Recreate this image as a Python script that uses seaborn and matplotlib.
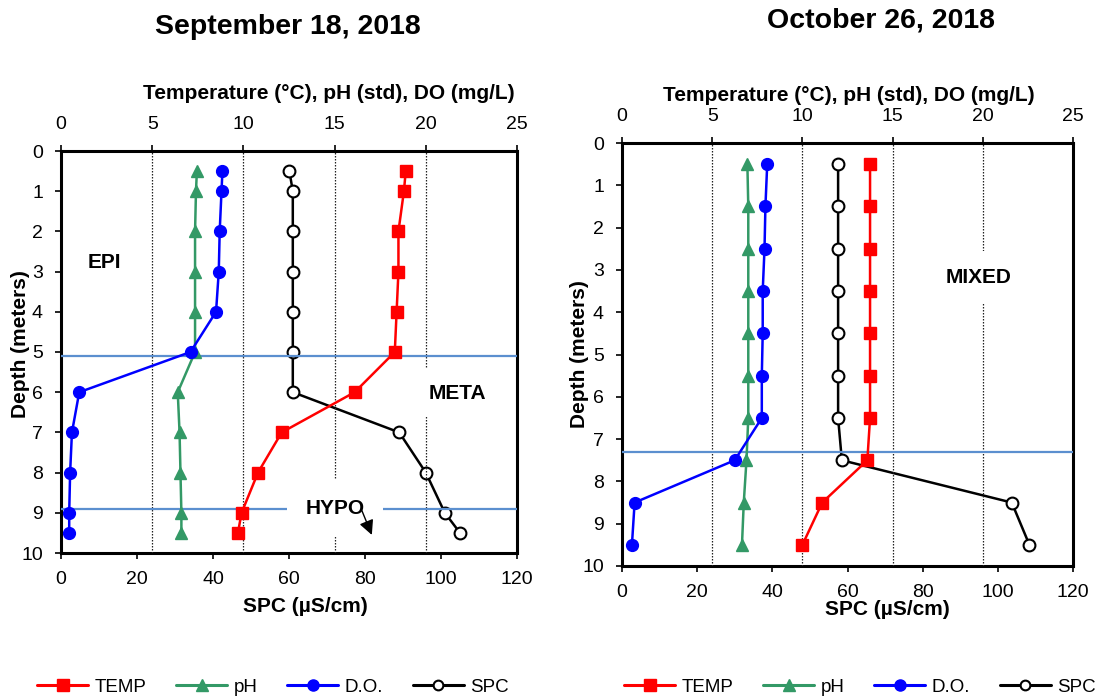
import matplotlib
matplotlib.use("Agg")
import matplotlib.pyplot as plt
import seaborn as sns
import pandas as pd
from matplotlib.lines import Line2D

sns.set_style("white")
plt.rcParams["font.family"] = ["Liberation Sans", "DejaVu Sans"]
for k in ["text.color", "axes.labelcolor", "xtick.color", "ytick.color"]:
    plt.rcParams[k] = "black"

# ---------------- data ----------------
titles = ["September 18, 2018", "October 26, 2018"]

depth_sep = [0.5, 1, 2, 3, 4, 5, 6, 7, 8, 9, 9.5]
temp_sep = [18.9, 18.8, 18.5, 18.5, 18.4, 18.3, 16.1, 12.1, 10.8, 9.9, 9.7]
ph_sep = [7.45, 7.4, 7.35, 7.35, 7.35, 7.35, 6.4, 6.5, 6.55, 6.6, 6.6]
do_sep = [8.85, 8.8, 8.7, 8.65, 8.5, 7.1, 1.0, 0.6, 0.5, 0.45, 0.45]
spc_sep = [60.1, 61, 61, 61, 61, 61, 61, 89, 96, 101, 105]
thermo_sep = [5.1, 8.9]

depth_oct = [0.5, 1.5, 2.5, 3.5, 4.5, 5.5, 6.5, 7.5, 8.5, 9.5]
temp_oct = [13.75, 13.75, 13.75, 13.75, 13.75, 13.75, 13.75, 13.6, 11.1, 10.0]
ph_oct = [6.95, 7.0, 7.0, 7.0, 7.0, 7.0, 7.0, 6.9, 6.75, 6.65]
do_oct = [8.05, 7.95, 7.9, 7.8, 7.8, 7.75, 7.75, 6.25, 0.7, 0.55]
spc_oct = [57.5, 57.5, 57.5, 57.5, 57.5, 57.5, 57.5, 58.5, 103.7, 108.4]
thermo_oct = [7.3]

spc_ticks = [0, 20, 40, 60, 80, 100, 120]
top_ticks = [0, 5, 10, 15, 20, 25]
grid_top = [5, 10, 15, 20]
depth_ticks = list(range(0, 11))

series_names = ["TEMP", "pH", "D.O.", "SPC"]
top_label = "Temperature (°C), pH (std), DO (mg/L)"
bottom_label = "SPC (µS/cm)"
y_label = "Depth (meters)"

RED = "#FF0000"
GREEN = "#339966"
BLUE = "#0000FF"
BLACK = "#000000"
THERMO = "#5B8FCF"

W, H = 1108, 698
fig = plt.figure(figsize=(W / 100, H / 100), dpi=100)


def rect(x0, y0, x1, y1):
    return [x0 / W, 1 - y1 / H, (x1 - x0) / W, (y1 - y0) / H]


def draw_panel(ax, depth, temp, ph, do, spc, thermo, top_xy, bot_xy, yl_xy):
    ax_t = ax.twiny()
    # SPC on the bottom axis
    df_spc = pd.DataFrame({"depth": depth, "value": spc})
    sns.lineplot(data=df_spc, x="value", y="depth", sort=False, estimator=None,
                 ax=ax, color=BLACK, lw=1.8, marker="o", markersize=8.5,
                 markerfacecolor="white", markeredgecolor=BLACK,
                 markeredgewidth=1.5, zorder=3)
    # Temp / pH / DO on the top axis
    for vals, col, mk in [(temp, RED, "s"), (ph, GREEN, "^"), (do, BLUE, "o")]:
        d = pd.DataFrame({"depth": depth, "value": vals})
        sns.lineplot(data=d, x="value", y="depth", sort=False, estimator=None,
                     ax=ax_t, color=col, lw=1.8, marker=mk, markersize=8.5,
                     markerfacecolor=col, markeredgecolor=col,
                     markeredgewidth=1, zorder=4)
    for g in grid_top:
        ax_t.axvline(g, color="#222222", lw=0.9, ls=(0, (1.2, 1.2)), zorder=1)
    for t in thermo:
        ax_t.axhline(t, color=THERMO, lw=1.6, zorder=2)

    ax.set_xlim(0, 120)
    ax.set_ylim(10, 0)
    ax_t.set_xlim(0, 25)
    ax.set_xticks(spc_ticks)
    ax.set_yticks(depth_ticks)
    ax_t.set_xticks(top_ticks)

    ax.tick_params(axis="both", direction="out", length=4.5, width=1.2,
                   labelsize=14, pad=8.5, colors="black")
    ax.tick_params(axis="x", bottom=True, top=False)
    ax.tick_params(axis="y", left=True, right=False)
    ax_t.tick_params(axis="x", direction="out", length=4.5, width=1.2,
                     labelsize=14, pad=8.5, top=True, colors="black")
    for s in ax.spines.values():
        s.set_linewidth(2.2)
        s.set_color("black")
        s.set_visible(True)
    for s in ax_t.spines.values():
        s.set_visible(False)

    ax_t.set_xlabel(top_label, fontsize=15, fontweight="bold")
    ax_t.xaxis.set_label_coords(*top_xy)
    ax_t.xaxis.label.set_va("center")
    ax.set_xlabel(bottom_label, fontsize=15, fontweight="bold")
    ax.xaxis.set_label_coords(*bot_xy)
    ax.xaxis.label.set_va("center")
    ax.set_ylabel(y_label, fontsize=15, fontweight="bold")
    ax.yaxis.set_label_coords(*yl_xy)
    ax.yaxis.label.set_va("center")
    return ax_t


ax1 = fig.add_axes(rect(61, 151, 517, 553))
ax1t = draw_panel(ax1, depth_sep, temp_sep, ph_sep, do_sep, spc_sep, thermo_sep,
                  (0.588, 1.144), (0.537, -0.134), (-0.089, 0.52))
ax2 = fig.add_axes(rect(622, 143, 1073, 566))
ax2t = draw_panel(ax2, depth_oct, temp_oct, ph_oct, do_oct, spc_oct, thermo_oct,
                  (0.503, 1.113), (0.588, -0.104), (-0.094, 0.5))

# zone labels (positions in SPC / depth units)
lab_kw = dict(fontsize=15, fontweight="bold", ha="center", va="center", zorder=6)
ax1t.text(11.5, 2.77, "EPI", transform=ax1.transData, **lab_kw)
ax1t.text(104.4, 6.02, "META", transform=ax1.transData,
          bbox=dict(boxstyle="square,pad=0.7", fc="white", ec="none"), **lab_kw)
ax1t.text(72.1, 8.89, "HYPO", transform=ax1.transData,
          bbox=dict(boxstyle="square,pad=0.9", fc="white", ec="none"), **lab_kw)
ax1t.annotate("", xy=(81.8, 9.55), xytext=(79.2, 8.95), xycoords=ax1.transData,
              textcoords=ax1.transData, zorder=7,
              arrowprops=dict(arrowstyle="-|>", color="black", lw=1.0,
                              mutation_scale=22, shrinkA=0, shrinkB=0))
ax2t.text(94.9, 3.18, "MIXED", transform=ax2.transData,
          bbox=dict(boxstyle="square,pad=0.8", fc="white", ec="none"), **lab_kw)

# titles
fig.text(288 / W, 1 - 27 / H, titles[0], fontsize=20.5, fontweight="bold",
         ha="center", va="center")
fig.text(881 / W, 1 - 21 / H, titles[1], fontsize=20.5, fontweight="bold",
         ha="center", va="center")

# legends
handles = [
    Line2D([], [], color=RED, lw=2.2, marker="s", markersize=8, mec=RED, mfc=RED),
    Line2D([], [], color=GREEN, lw=2.2, marker="^", markersize=8, mec=GREEN, mfc=GREEN),
    Line2D([], [], color=BLUE, lw=2.2, marker="o", markersize=8, mec=BLUE, mfc=BLUE),
    Line2D([], [], color=BLACK, lw=2.2, marker="o", markersize=7, mec=BLACK,
           mfc="white", mew=1.5),
]
for xc in (273 / W, 860 / W):
    fig.legend(handles, series_names, loc="center", bbox_to_anchor=(xc, 1 - 687 / H),
               ncol=4, frameon=False, fontsize=13.5, handlelength=2.7,
               handletextpad=0.35, columnspacing=1.6, borderpad=0, borderaxespad=0)

fig.savefig("out.png", dpi=100)
